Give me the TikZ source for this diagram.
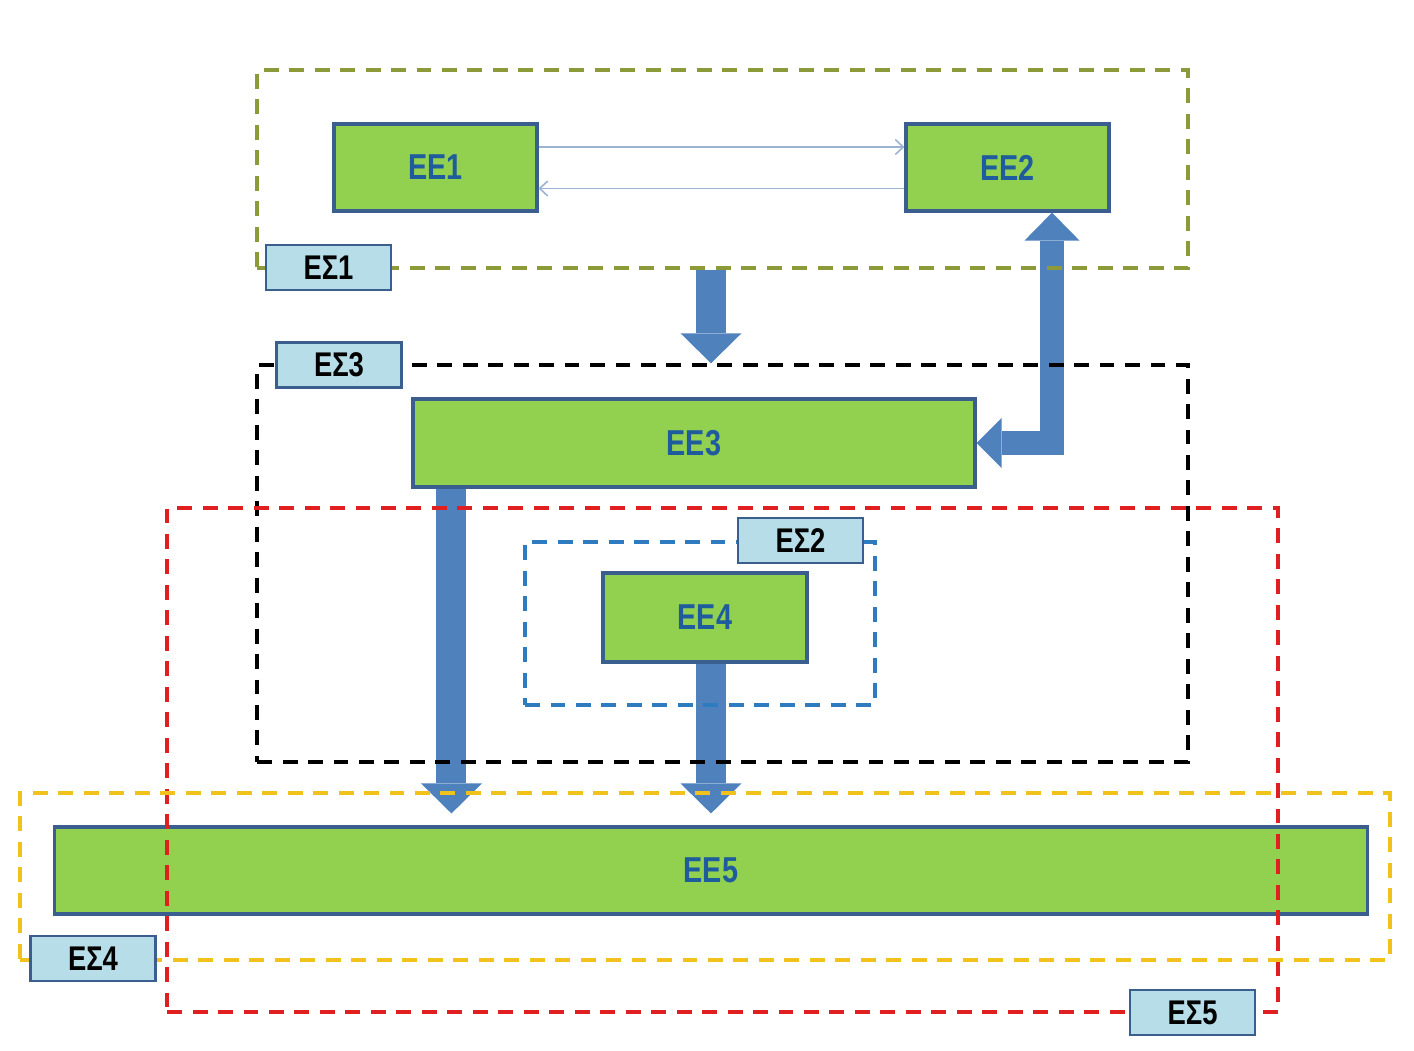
\documentclass[tikz,border=0pt]{standalone}
\usepackage{fontspec}
\setmainfont{Liberation Sans}[FakeStretch=0.8]
\usetikzlibrary{arrows.meta, backgrounds}
\definecolor{eGreen}{HTML}{92D050}
\definecolor{eEdge}{HTML}{3A5F8E}
\definecolor{eText}{HTML}{1F5C9E}
\definecolor{sFill}{HTML}{B7DEE8}
\definecolor{bArrow}{HTML}{4F81BD}
\definecolor{thinArrow}{HTML}{9DB3D2}
\definecolor{gOlive}{HTML}{8C9A3A}
\definecolor{gRed}{HTML}{E02020}
\definecolor{gBlue}{HTML}{2F7BC0}
\definecolor{gYellow}{HTML}{F2C21C}
\definecolor{topBand}{HTML}{B3D3B8}

\begin{document}
\begin{tikzpicture}[x=0.02cm, y=-0.02cm,
  ee/.style={draw=eEdge, line width=1.8pt, fill=eGreen, text=eText,
             font=\fontsize{20.5}{24}\selectfont\bfseries, inner sep=0pt,
             minimum width=4.06cm, minimum height=1.74cm},
  es/.style={draw=eEdge, line width=1.4pt, fill=sFill, text=black,
             font=\fontsize{19.5}{23}\selectfont\bfseries, inner sep=0pt,
             minimum width=2.5cm, minimum height=0.9cm},
  grp/.style={draw=#1, line width=2pt, dash pattern=on 8.5pt off 6pt,
             inner sep=0pt},
  tl/.style={thinArrow, line width=0.9pt,
             -{Straight Barb[length=0.16cm, width=0.3cm]}},
  big/.style={bArrow, line width=0.6cm,
             -{Triangle[width=1.22cm, length=0.6cm, line width=0pt]}}]
  \useasboundingbox (0,0) rectangle (1414,1051);

  \node[ee] (ee1) at (435.5,167.5) {ΕΕ1};
  \node[ee] (ee2) at (1007.5,167.5) {ΕΕ2};
  \node[ee, minimum width=11.24cm, minimum height=1.76cm] (ee3) at (694,443) {ΕΕ3};
  \node[ee, minimum width=4.08cm, minimum height=1.78cm] (ee4) at (705,617.5) {ΕΕ4};
  \node[ee, minimum width=26.28cm] (ee5) at (711,870.5) {ΕΕ5};

  \node[grp=gOlive, minimum width=18.62cm, minimum height=3.96cm] (es1box) at (722.5,169) {};
  \node[grp=black, minimum width=18.62cm, minimum height=7.94cm] (es3box) at (722.5,563.5) {};
  \node[grp=gRed, minimum width=22.22cm, minimum height=10.08cm] (es5box) at (722.5,760) {};
  \node[grp=gBlue, minimum width=7cm, minimum height=3.26cm] (es2box) at (700,623.5) {};
  \node[grp=gYellow, minimum width=27.4cm, minimum height=3.34cm] (es4box) at (705,876.5) {};

  \node[es] (es1) at (328.5,267.5) {ΕΣ1};
  \node[es] (es3) at (339,365) {ΕΣ3};
  \node[es] (es2) at (800.5,540.5) {ΕΣ2};
  \node[es] (es4) at (93,958.5) {ΕΣ4};
  \node[es] (es5) at (1192.5,1012.5) {ΕΣ5};

  \draw[tl] ([yshift=0.41cm]ee1.east) -- ([yshift=0.41cm]ee2.west);
  \draw[tl] ([yshift=-0.42cm]ee2.west) -- ([yshift=-0.42cm]ee1.east);

  \coordinate (bend) at (1052,443);
  \coordinate (drop) at ([xshift=0.8cm]ee3.south west);
  \begin{scope}[on background layer]
    \shade[left color=white, middle color=topBand, right color=white]
      (0,0) rectangle (1414,5);
    \draw[big] (ee5 |- es1box.south) -- (ee5 |- es3box.north);
    \draw[big, shorten >=0.24cm] (drop) -- (drop |- ee5.north);
    \draw[big, shorten >=0.24cm] (ee5 |- ee4.south) -- (ee5.north);
    \draw[bArrow, line width=0.48cm,
      {Triangle[width=1.1cm, length=0.56cm, line width=0pt]}-{Triangle[width=1.0cm, length=0.5cm, line width=0pt]}]
      (ee2.south -| bend) -- (bend) -- (ee3.east);
  \end{scope}
\end{tikzpicture}
\end{document}
